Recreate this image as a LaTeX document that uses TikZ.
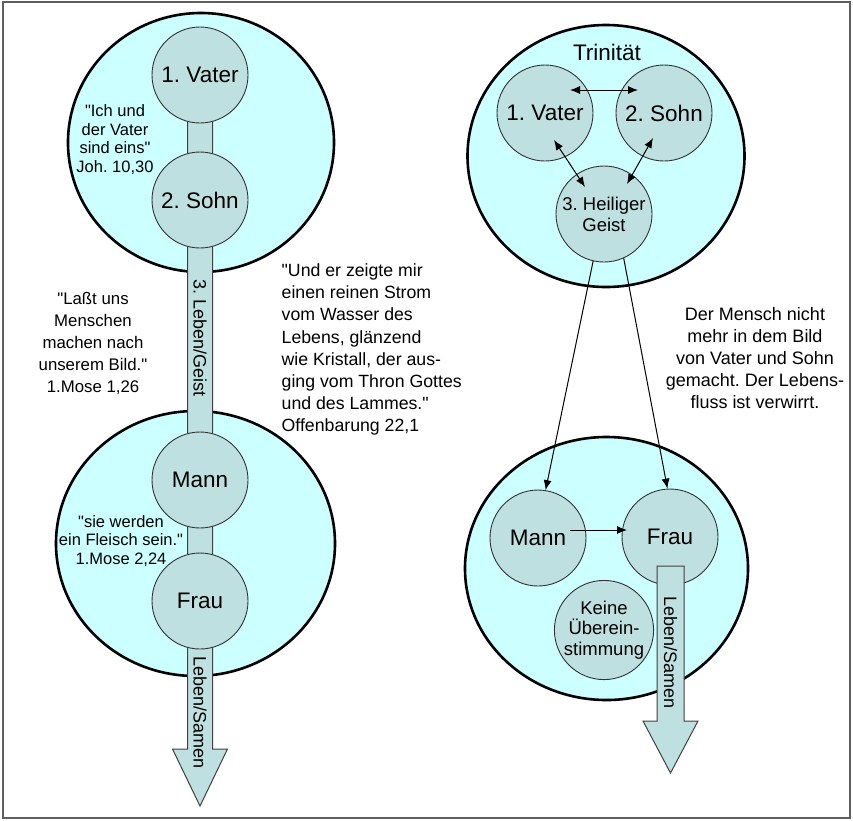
\documentclass[tikz,border=0pt]{standalone}
\usepackage{fontspec}
\setmainfont{Liberation Sans}[Ligatures=TeXOff]
\frenchspacing
\usetikzlibrary{shapes.geometric,arrows.meta}

\definecolor{outerfill}{RGB}{204,255,255}
\definecolor{innerfill}{RGB}{191,224,224}
\definecolor{framegray}{RGB}{95,95,95}

\begin{document}
\begin{tikzpicture}[x=1pt,y=-1pt,
  outer/.style={ellipse, draw=black, line width=2.6pt, fill=outerfill, inner sep=0pt},
  person/.style={circle, draw=black!80, line width=0.9pt, fill=innerfill,
    minimum size=96pt, inner sep=0pt, align=center,
    font=\fontsize{22.5}{25}\selectfont},
  smallperson/.style={person, font=\fontsize{18.5}{20.8}\selectfont},
  stream/.style={draw=black!75, line width=1pt, fill=innerfill},
  streamlabel/.style={rotate=-90, inner sep=0pt, font=\fontsize{18}{20}\selectfont},
  quote/.style={align=center, inner sep=0pt, font=\fontsize{16.5}{18.5}\selectfont},
  bigquote/.style={inner sep=0pt, font=\fontsize{17.7}{22.1}\selectfont},
  link/.style={line width=1pt, -{Latex[length=10pt,width=8pt]}},
  duallink/.style={line width=1pt, {Latex[length=10pt,width=8pt]}-{Latex[length=10pt,width=8pt]}}]

\useasboundingbox (0,0) rectangle (853,820);
\draw[framegray, line width=1.6pt] (3,2) rectangle (850,818);

% outer circles
\node[outer, minimum width=266pt, minimum height=259pt] (godL) at (201,142.5) {};
\node[outer, minimum width=279pt, minimum height=265pt] (manL) at (195.5,543.5) {};
\node[outer, minimum width=277pt, minimum height=262pt] (godR) at (606,156) {};
\node[outer, minimum width=283pt, minimum height=263pt] (manR) at (606.5,568.5) {};

% left stream of life
\draw[stream] (187.5,100) -- (212.5,100) -- (212.5,749) -- (227.5,749)
  -- (200,806) -- (172.5,749) -- (187.5,749) -- cycle;

% left persons
\node[person] (vaterL) at (200,75) {1. Vater};
\node[person] (sohnL) at (200,200) {2. Sohn};
\node[person] (mannL) at (200,480) {Mann};
\node[person] (frauL) at (200,601) {Frau};

% right persons
\node[person] (vaterR) at (545,113) {1. Vater};
\node[person] (sohnR) at (664,113) {2. Sohn};
\node[smallperson] (geist) at (604,214) {3. Heiliger\\Geist};
\node[person] (mannR) at (538,538) {Mann};
\node[person] (frauR) at (670,537) {Frau};
\node[smallperson, font=\fontsize{18.5}{20.5}\selectfont] (keine) at (604,630) {Keine\\Überein-\\stimmung};

% right stream of life
\draw[stream] (657,566) -- (684,566) -- (684,721) -- (698,721)
  -- (670.5,773) -- (643,721) -- (657,721) -- cycle;

% stream labels
\node[streamlabel] (geistL) at (200,338) {3. Leben/Geist};
\node[streamlabel] (samenL) at (200,712.5) {Leben/Samen};
\node[streamlabel] (samenR) at (670.5,652.5) {Leben/Samen};

% texts
\node[font=\fontsize{22.5}{25}\selectfont, inner sep=0pt] (trinitaet) at (607,52) {Trinität};
\node[quote] (eins) at (115,139.5) {"Ich und\\der Vater\\sind eins"\\Joh. 10,30};
\node[quote, font=\fontsize{16.8}{22}\selectfont] (bild) at (93,343) {"Laßt uns\\Menschen\\machen nach\\unserem Bild."\\1.Mose 1,26};
\node[bigquote, align=left, anchor=west] (strom) at (281.5,349.5)
  {"Und er zeigte mir\\einen reinen Strom\\vom Wasser des\\Lebens, glänzend\\wie Kristall, der aus-\\ging vom Thron Gottes\\und des Lammes."\\Offenbarung 22,1};
\node[quote] (fleisch) at (121,541) {"sie werden\\ein Fleisch sein."\\1.Mose 2,24};
\node[quote, font=\fontsize{18}{22}\selectfont] (verwirrt) at (755,358)
  {Der Mensch nicht\\mehr in dem Bild\\von Vater und Sohn\\gemacht. Der Lebens-\\fluss ist verwirrt.};

% relations
\draw[duallink] ([xshift=25pt,yshift=23pt]vaterR.center) -- ([xshift=-26pt,yshift=23pt]sohnR.center);
\draw[duallink] ([xshift=9pt,yshift=-27pt]vaterR.center) -- ([xshift=-19pt,yshift=27pt]geist.center);
\draw[duallink] ([xshift=-11pt,yshift=-25pt]sohnR.center) -- ([xshift=23pt,yshift=30pt]geist.center);
\draw[link] (geist.-103) -- (mannR.81);
\draw[link] (geist.-66) -- (frauR.93);
\draw[link] ([xshift=32pt,yshift=8pt]mannR.center) -- ([xshift=-43pt,yshift=7pt]frauR.center);
\end{tikzpicture}
\end{document}
